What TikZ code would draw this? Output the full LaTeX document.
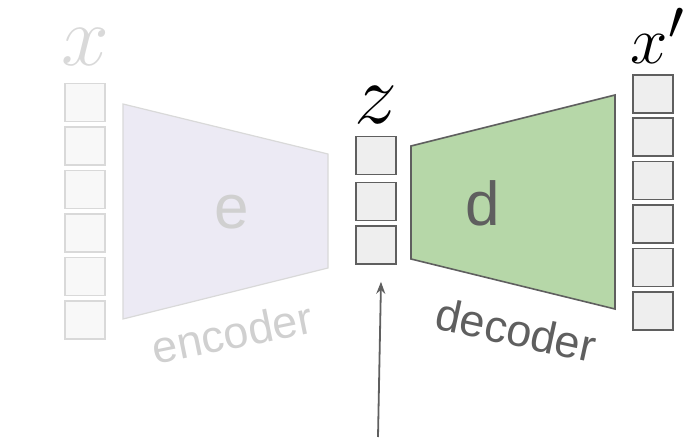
\documentclass[tikz,border=0pt]{standalone}
\usepackage{fontspec}
\usepackage{graphicx}
\usetikzlibrary{arrows.meta}
\newfontfamily\arialish{Liberation Sans}
\definecolor{lightedge}{HTML}{D9D9D9}
\definecolor{lightcell}{HTML}{F8F8F8}
\definecolor{encfill}{HTML}{ECEAF4}
\definecolor{darkedge}{HTML}{5F5F5F}
\definecolor{darkcell}{HTML}{EEEEEE}
\definecolor{decfill}{HTML}{B6D7A8}
\definecolor{fadetext}{HTML}{D0D0D0}
\newcommand{\bigmath}[2][3.45]{\scalebox{#1}{\Huge$#2$}}
\tikzset{
  fadecell/.style={draw=lightedge, fill=lightcell, line width=1.2pt, minimum width=40pt, minimum height=38pt, inner sep=0pt},
  solidcell/.style={draw=darkedge, fill=darkcell, line width=1.6pt, minimum width=40pt, minimum height=38pt, inner sep=0pt},
  mathlabel/.style={inner sep=0pt},
  bigletter/.style={font=\arialish\fontsize{62}{62}\selectfont, inner sep=0pt},
  sidetext/.style={font=\arialish\fontsize{45}{45}\selectfont, inner sep=0pt}
}
\begin{document}
\begin{tikzpicture}[x=1pt, y=-1pt]
\useasboundingbox (0,0) rectangle (686,439);

% input vector x
\node[mathlabel, text=lightedge] (xlab) at (85,47) {\bigmath{x}};
\foreach \i/\yy in {1/102.5, 2/146, 3/189.5, 4/233, 5/276.5, 6/320}
  \node[fadecell] (x\i) at (85,\yy) {};

% encoder
\draw[draw=lightedge, fill=encfill, line width=1.2pt]
  (123,104) -- (328,154) -- (328,268) -- (123,319) -- cycle;
\node[bigletter, text=fadetext] (e) at (232,212) {e};
\node[sidetext, text=fadetext, rotate=11.5] (enc) at (232,333) {encoder};

% latent code z
\node[mathlabel] (zlab) at (376,105) {\bigmath{z}};
\foreach \i/\yy in {1/155.5, 2/201.5, 3/245}
  \node[solidcell] (z\i) at (376,\yy) {};

% decoder
\draw[draw=darkedge, fill=decfill, line width=1.6pt]
  (411,146) -- (615,95) -- (615,309) -- (411,259) -- cycle;
\node[bigletter, text=darkedge] (d) at (483,203) {d};
\node[sidetext, text=darkedge, rotate=-12.3] (dec) at (516,330) {decoder};

% reconstruction x'
\node[mathlabel] (xplab) at (658,36) {\bigmath[2.7]{x'}};
\foreach \i/\yy in {1/94, 2/137, 3/180.5, 4/224, 5/267.5, 6/311}
  \node[solidcell] (xp\i) at (653,\yy) {};

% pointer to the code
\coordinate (tail) at (378,437);
\draw[draw=darkedge, line width=1.8pt, -{Stealth[length=12pt,width=9pt]}]
  (tail) -- ([xshift=5pt,yshift=-17pt]z3.south);
\end{tikzpicture}
\end{document}
